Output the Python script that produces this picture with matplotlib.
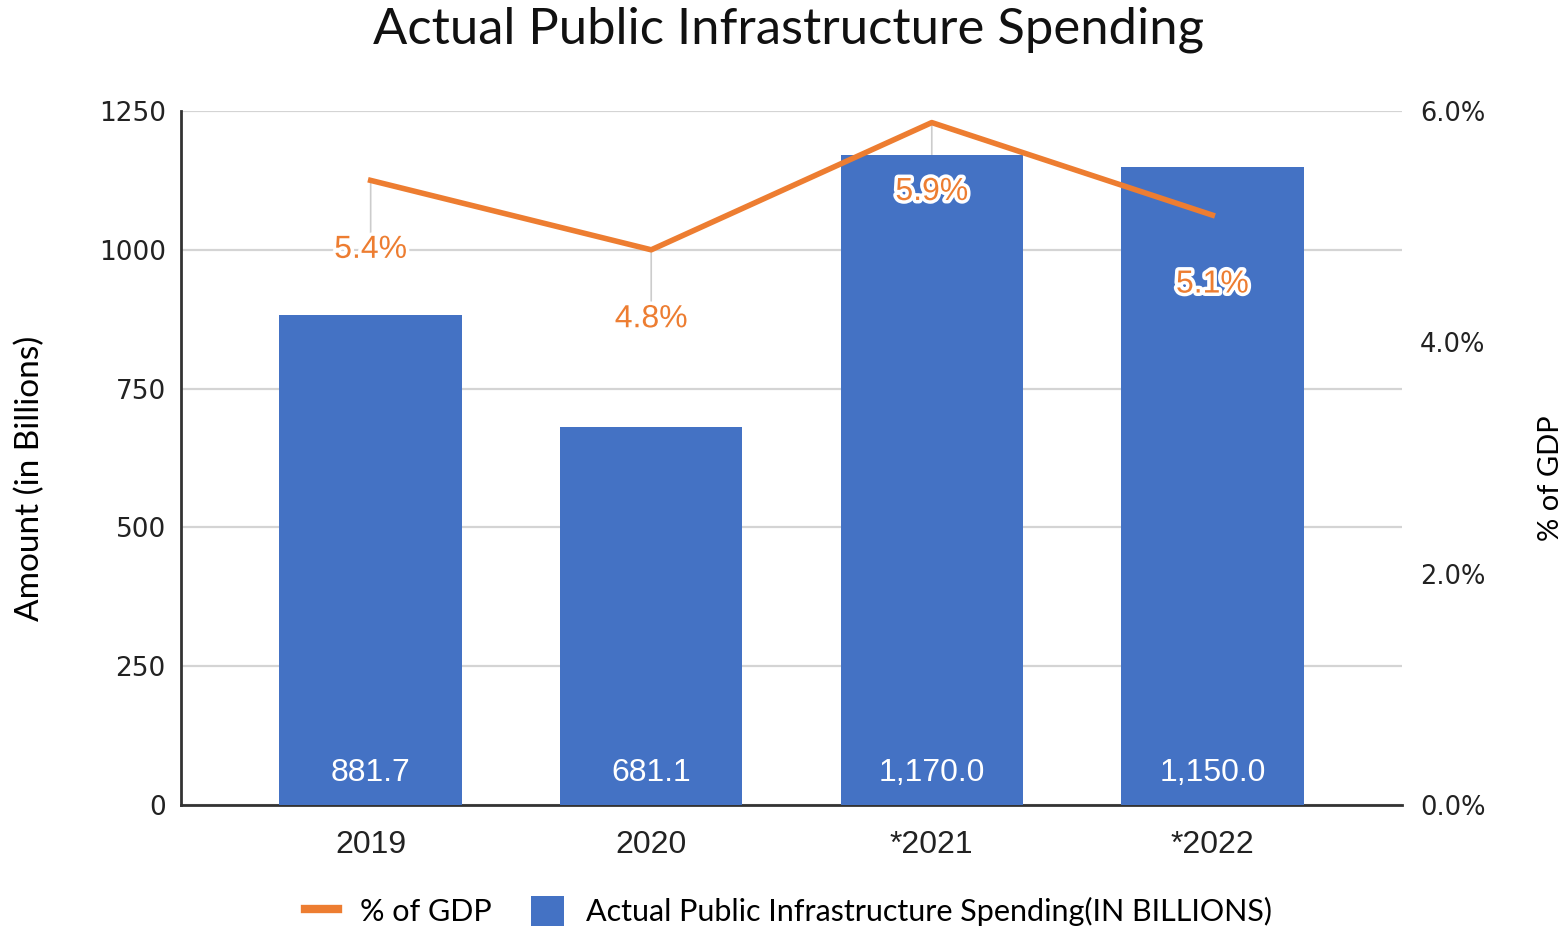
import matplotlib.pyplot as plt
import matplotlib.patheffects as pe
from matplotlib.lines import Line2D
from matplotlib.patches import Patch

# spending and share of GDP per year
years = ['2019', '2020', '*2021', '*2022']
spending = [881.7, 681.1, 1170.0, 1150.0]
pct_gdp = [5.4, 4.8, 5.9, 5.1]

bar_color = '#4472C4'
line_color = '#ED7D31'
grid_color = '#d4d4d4'
arial = 'Liberation Sans'

fig = plt.figure(figsize=(15.67, 9.27), dpi=100)
ax = fig.add_axes([181/1567, 1 - 805/927, 1221/1567, 694/927])
ax2 = ax.twinx()

x = list(range(len(years)))
ax.bar(x, spending, width=0.65, color=bar_color, zorder=3)
ax.set_xlim(-0.676, 3.676)
ax.set_ylim(0, 1250)
ax.set_yticks([0, 250, 500, 750, 1000, 1250])
ax.set_xticks(x)
ax.set_xticklabels(years, family=arial, fontsize=23)
ax.grid(axis='y', color=grid_color, linewidth=1.6, zorder=0)
ax.set_axisbelow(True)
ax.tick_params(axis='y', length=0, labelsize=19, colors='#222222', pad=11)
ax.tick_params(axis='x', length=0, colors='#222222', pad=18)
for s in ['top', 'right']:
    ax.spines[s].set_visible(False)
for s in ['left', 'bottom']:
    ax.spines[s].set_color('#333333')
    ax.spines[s].set_linewidth(2)
ax.set_ylabel('Amount (in Billions)', fontsize=24, family='Lato', ha='center', va='center')
ax.yaxis.set_label_coords(-0.124, 0.471)

# value labels at the foot of each bar
for i, v in enumerate(spending):
    ax.annotate(f'{v:,.1f}', xy=(i, 0), xytext=(0, 23), textcoords='offset points',
                ha='center', va='center', color='white', fontsize=23, family=arial)

# thin leaders from each point down to its label, kept behind the bars
for i, p in enumerate(pct_gdp):
    ax.annotate('', xy=(i, p), xycoords=ax2.transData, xytext=(0, -38),
                textcoords='offset points',
                arrowprops=dict(arrowstyle='-', color='#cccccc', lw=1.2,
                                shrinkA=0, shrinkB=0), zorder=1)

ax2.plot(x, pct_gdp, color=line_color, linewidth=4, zorder=4)
ax2.set_ylim(0, 6)
ax2.set_yticks([0, 2, 4, 6])
ax2.set_yticklabels([f'{t:.1f}%' for t in [0, 2, 4, 6]])
ax2.tick_params(axis='y', length=0, labelsize=18.5, colors='#222222', pad=13)
for s in ['top', 'right', 'left', 'bottom']:
    ax2.spines[s].set_visible(False)
ax2.set_ylabel('% of GDP', fontsize=21, family='Lato', ha='center', va='center')
ax2.yaxis.set_label_coords(1.122, 0.471)

for i, p in enumerate(pct_gdp):
    ax2.annotate(f'{p:.1f}%', xy=(i, p), xytext=(0, -50), textcoords='offset points',
                 ha='center', va='center', color=line_color, fontsize=23, family=arial,
                 path_effects=[pe.withStroke(linewidth=5, foreground='white')])

fig.text(0.5035, 1 - 30/927, 'Actual Public Infrastructure Spending', fontsize=36.5,
         family='Lato', ha='center', va='center', color='#111111')

handles = [Line2D([0], [0], color=line_color, linewidth=6),
           Patch(facecolor=bar_color)]
labels = ['% of GDP', 'Actual Public Infrastructure Spending(IN BILLIONS)']
fig.legend(handles, labels, loc='center', bbox_to_anchor=(0.503, 0.017), ncol=2,
           frameon=False, prop={'family': 'Lato', 'size': 22}, handlelength=1.1,
           handleheight=1.1, columnspacing=1.3, handletextpad=0.7)

fig.savefig('out.png', dpi=100)
